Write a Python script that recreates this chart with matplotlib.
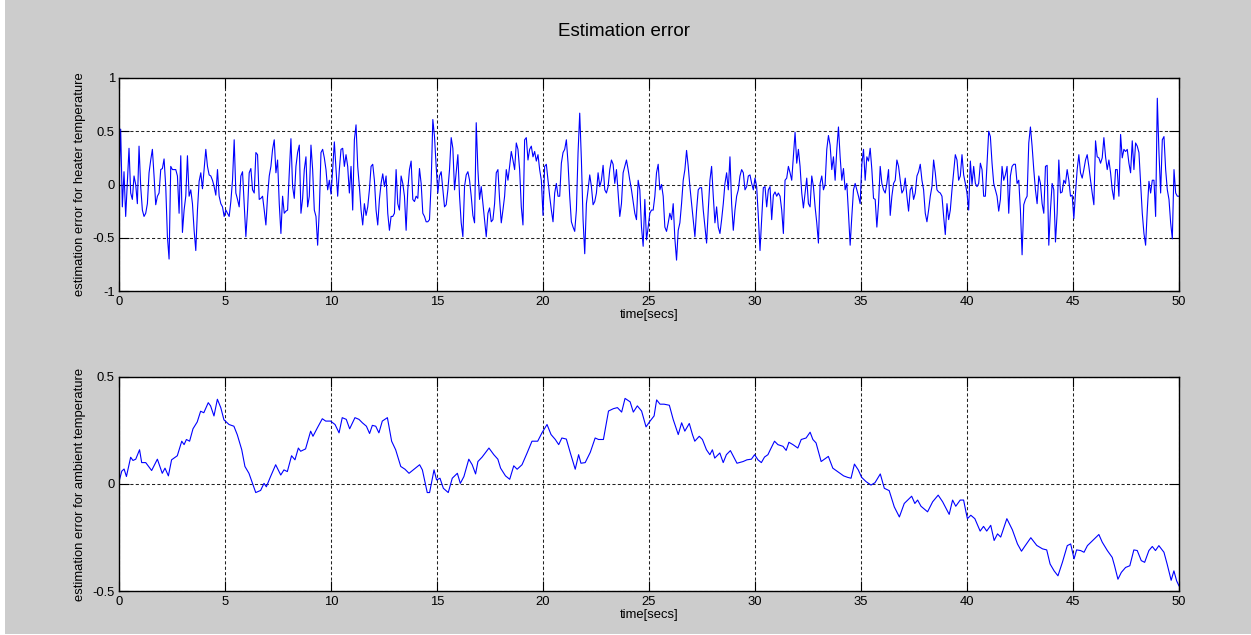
import numpy as np
import matplotlib
matplotlib.use("Agg")
import matplotlib.pyplot as plt
from matplotlib.patches import Rectangle

# Heater-temperature estimation error, sampled uniformly over 0..50 s
heater_error = [
    0.01, 0.52, -0.21, 0.12, -0.30, 0.01, 0.34, -0.08, -0.14, 0.08,
    0.00, -0.18, 0.36, -0.02, -0.24, -0.30, -0.27, -0.18, 0.11, 0.23,
    0.33, 0.08, -0.19, -0.11, -0.08, 0.14, 0.15, 0.24, -0.02, -0.49,
    -0.70, 0.17, 0.14, 0.14, 0.14, 0.08, -0.27, 0.27, -0.45, -0.24,
    -0.11, 0.27, -0.11, -0.05, -0.18, -0.43, -0.62, -0.24, 0.03, 0.11,
    -0.04, 0.14, 0.33, 0.17, 0.09, 0.08, 0.04, -0.02, -0.10, 0.14,
    -0.11, -0.18, -0.21, -0.30, -0.24, -0.27, -0.30, -0.16, 0.04, 0.42,
    -0.08, -0.14, -0.21, 0.08, 0.12, -0.18, -0.49, -0.24, 0.11, 0.15,
    -0.05, -0.08, 0.30, 0.28, -0.14, -0.13, -0.11, -0.24, -0.38, -0.11,
    0.08, 0.17, 0.33, 0.42, 0.11, 0.23, -0.18, -0.46, -0.11, -0.27,
    -0.25, -0.24, 0.11, 0.43, -0.02, -0.13, 0.17, 0.30, 0.37, -0.27,
    -0.13, 0.14, 0.26, -0.21, -0.11, 0.37, 0.14, -0.24, -0.30, -0.57,
    -0.24, 0.30, 0.33, 0.25, 0.14, -0.05, 0.04, -0.09, 0.14, 0.40,
    0.14, -0.11, 0.14, 0.33, 0.34, 0.17, 0.28, 0.17, -0.08, 0.17,
    -0.24, 0.42, 0.56, 0.17, -0.02, -0.24, -0.38, -0.18, -0.29, -0.21,
    -0.05, 0.17, 0.19, 0.04, -0.24, -0.38, -0.14, 0.01, 0.10, -0.02,
    0.08, -0.27, -0.43,
    -0.30, -0.30, -0.27, 0.14, -0.18, -0.24, 0.08, 0.01, -0.11, -0.43,
    -0.05, 0.14, 0.22, -0.14, -0.16, -0.11, -0.13, 0.15, 0.01, -0.27,
    -0.30, -0.35, -0.35, -0.33, 0.01, 0.61, 0.45, 0.17, -0.08, 0.08,
    0.12, -0.05, -0.21, -0.19, -0.05, 0.14, 0.44, 0.34, -0.05, 0.11,
    0.28, -0.11, -0.36, -0.49, -0.02, 0.09, 0.12, 0.04, -0.11, -0.29,
    -0.36, 0.58, 0.14, -0.14, -0.02, -0.18, -0.33, -0.49, -0.27, -0.22,
    -0.35, -0.33, -0.18, 0.11, 0.14, -0.14, -0.36, -0.24, -0.11, 0.14,
    0.04, 0.17, 0.31, 0.23, 0.14, 0.39, 0.33, 0.14, -0.21, -0.38,
    0.42, 0.44, 0.23, 0.33, 0.36, 0.26, 0.31, 0.22, 0.28, 0.14,
    0.04, -0.29, 0.17, 0.19, 0.04, -0.11, -0.24, -0.35, -0.08, 0.01,
    -0.11, -0.11, 0.20, 0.30, 0.33, 0.42, 0.20, -0.11, -0.35, -0.40,
    -0.44, -0.24, 0.30, 0.67, 0.23, -0.33, -0.65, -0.18, -0.05, 0.09,
    -0.02, -0.19, -0.16, -0.08, 0.11, -0.02, 0.04, 0.18, -0.05, -0.08,
    -0.02, 0.14, 0.23, 0.19, 0.01, 0.14, -0.08, -0.30, -0.18, 0.11,
    0.17, 0.23, 0.14, 0.04, -0.05, -0.16, -0.27, -0.33, 0.04, -0.05,
    -0.40, -0.58, -0.14, -0.52, -0.40, -0.27, -0.24, -0.24, -0.11, 0.11,
    0.19,
    -0.05, 0.00, -0.11, -0.40, -0.44, -0.36, -0.27, -0.33, -0.18, -0.51,
    -0.71, -0.43, -0.36, -0.18, 0.04, 0.14, 0.32, 0.17, -0.02, -0.18,
    -0.33, -0.49, -0.24, -0.05, -0.03, -0.03, -0.24, -0.40, -0.55, -0.24,
    0.04, 0.17, -0.11, -0.36, -0.21, -0.40, -0.46, -0.33, -0.18, 0.01,
    0.11, -0.05, 0.26, -0.18, -0.43, -0.24, -0.11, -0.05, 0.08, 0.14,
    0.11, -0.05, -0.02, 0.08, 0.09, 0.01, -0.05, 0.06, -0.02, -0.30,
    -0.62, -0.33, -0.03, -0.02, -0.21, -0.05, -0.02, -0.33, -0.10, -0.07,
    -0.11, -0.08, -0.11, -0.24, -0.46, 0.04, 0.06, 0.17, 0.11, 0.04,
    0.26, 0.49, 0.20, 0.33, 0.17, -0.08, -0.22, -0.08, 0.06, -0.18,
    -0.21, 0.08, -0.02, -0.21, -0.36, -0.55, 0.01, 0.08, -0.05, 0.00,
    0.33, 0.46, 0.37, 0.14, 0.26, 0.04, 0.33, 0.54, 0.26, 0.04,
    0.15, -0.05, 0.01, -0.27, -0.57, -0.30, -0.05, 0.01, -0.05, -0.11,
    -0.18, 0.19, 0.33, 0.04, 0.26, 0.22, 0.34, 0.14, -0.13, -0.14,
    -0.40, -0.18, 0.17, 0.01, -0.05, -0.08, 0.01, 0.14, -0.29, -0.11,
    0.01, 0.04, 0.23, 0.17, 0.04, -0.08, -0.05, 0.06, -0.11, -0.25,
    -0.05, -0.02, -0.14, -0.08, 0.08, 0.12, 0.19, 0.04, -0.05, -0.27,
    -0.35, -0.24, -0.11,
    -0.02, 0.23, 0.11, -0.05, -0.07, -0.08, -0.11, -0.30, -0.47, -0.18,
    -0.33, -0.24, -0.05, 0.11, 0.28, 0.23, 0.04, 0.08, 0.28, 0.09,
    0.01, -0.08, -0.24, 0.22, 0.00, 0.17, 0.01, -0.02, 0.01, 0.20,
    0.14, -0.11, -0.11, 0.20, 0.50, 0.45, 0.20, 0.01, -0.05, -0.11,
    -0.25, -0.14, 0.17, 0.04, 0.09, 0.17, -0.27, 0.08, 0.17, 0.19,
    0.19, 0.01, 0.04, -0.24, -0.66, -0.19, -0.14, -0.11, 0.39, 0.54,
    0.36, 0.14, -0.05, -0.18, 0.08, 0.01, -0.18, -0.27, 0.17, 0.18,
    -0.57, -0.24, 0.01, -0.05, -0.54, -0.27, 0.23, -0.08, -0.07, 0.04,
    0.01, 0.14, 0.04, -0.11, -0.10, -0.32, -0.08, 0.14, 0.28, 0.11,
    0.06, 0.14, 0.23, 0.28, 0.17, 0.04, -0.08, -0.19, 0.41, 0.26,
    0.25, 0.20, 0.25, 0.44, 0.26, 0.14, 0.23, 0.11, -0.05, -0.14,
    0.14, 0.14, -0.11, 0.47, 0.25, 0.33, 0.31, 0.33, 0.20, 0.11,
    0.41, 0.14, 0.39, 0.36, 0.30, 0.01, -0.27, -0.46, -0.57, -0.24,
    0.03, -0.08, 0.04, 0.04, -0.30, 0.81, 0.30, -0.08, 0.42, 0.45,
    0.14, -0.05, -0.14, -0.36, -0.51, 0.14, -0.08, -0.11, -0.11,
]

# Ambient-temperature estimation error
ambient_time = [
    0.0, 0.13, 0.24, 0.35, 0.55, 0.66, 0.79, 0.97, 1.07, 1.26,
    1.54, 1.81, 2.04, 2.17, 2.33, 2.48, 2.75, 2.96, 3.07, 3.18,
    3.33, 3.49, 3.69, 3.85, 4.0, 4.21, 4.32, 4.48, 4.64, 4.8,
    4.95, 5.19, 5.42, 5.58, 5.79, 5.94, 6.13, 6.45, 6.68, 6.84,
    6.95, 7.15, 7.39, 7.63, 7.78, 7.94, 8.14, 8.3, 8.46, 8.57,
    8.8, 9.04, 9.15, 9.36, 9.59, 9.75, 9.98, 10.19, 10.38, 10.53,
    10.72, 10.88, 11.13, 11.32, 11.48, 11.67, 11.82, 11.95, 12.11, 12.26,
    12.42, 12.66, 12.86, 13.05, 13.29, 13.49, 13.68, 13.92, 14.18, 14.31,
    14.54, 14.65, 14.86, 14.98, 15.14, 15.3, 15.53, 15.72, 15.96, 16.1,
    16.27, 16.5, 16.66, 16.82, 16.93, 17.13, 17.45, 17.68, 17.87, 18.0,
    18.23, 18.43, 18.62, 18.78, 19.01, 19.25, 19.48, 19.75, 19.95, 20.19,
    20.38, 20.58, 20.74, 20.89, 21.1, 21.29, 21.52, 21.68, 21.79, 21.99,
    22.23, 22.46, 22.62, 22.85, 23.09, 23.32, 23.51, 23.71, 23.87, 24.11,
    24.26, 24.45, 24.65, 24.86, 25.05, 25.24, 25.36, 25.52, 25.71, 25.96,
    26.14, 26.38, 26.54, 26.69, 26.9, 27.05, 27.16, 27.37, 27.52, 27.71,
    27.87, 27.99, 28.1, 28.34, 28.5, 28.65, 28.84, 29.0, 29.15, 29.44,
    29.62, 29.83, 29.98, 30.14, 30.3, 30.45, 30.61, 30.72, 30.92, 31.08,
    31.32, 31.47, 31.6, 31.79, 32.02, 32.18, 32.41, 32.6, 32.73, 32.88,
    33.12, 33.28, 33.46, 33.67, 33.9, 34.18, 34.37, 34.53, 34.69, 34.87,
    35.03, 35.24, 35.47, 35.66, 35.91, 36.1, 36.33, 36.57, 36.81, 37.04,
    37.28, 37.39, 37.54, 37.67, 37.83, 38.14, 38.38, 38.64, 38.85, 39.16,
    39.32, 39.47, 39.68, 39.84, 39.95, 40.02, 40.18, 40.37, 40.62, 40.78,
    40.93, 41.12, 41.28, 41.44, 41.59, 41.72, 41.88, 42.14, 42.38, 42.57,
    42.72, 43.01, 43.29, 43.56, 43.76, 43.92, 44.11, 44.29, 44.5, 44.73,
    44.89, 45.05, 45.17, 45.36, 45.52, 45.68, 45.96, 46.22, 46.38, 46.62,
    46.85, 46.96, 47.12, 47.28, 47.48, 47.68, 47.87, 48.03, 48.22, 48.38,
    48.58, 48.74, 48.89, 49.05, 49.29, 49.44, 49.63, 49.76, 49.89, 50.0,
]
ambient_error = [
    0.01, 0.06, 0.07, 0.035, 0.125, 0.11, 0.116, 0.16, 0.10, 0.10,
    0.063, 0.116, 0.05, 0.074, 0.038, 0.113, 0.132, 0.20, 0.184, 0.208,
    0.20, 0.258, 0.29, 0.34, 0.333, 0.38, 0.365, 0.318, 0.396, 0.357,
    0.30, 0.278, 0.27, 0.23, 0.16, 0.082, 0.05, -0.04, -0.03, 0.003,
    -0.013, 0.035, 0.09, 0.042, 0.066, 0.058, 0.132, 0.113, 0.168, 0.153,
    0.164, 0.247, 0.223, 0.263, 0.305, 0.294, 0.294, 0.278, 0.239, 0.31,
    0.302, 0.258, 0.31, 0.302, 0.286, 0.27, 0.236, 0.274, 0.27, 0.239,
    0.294, 0.31, 0.20, 0.16, 0.082, 0.069, 0.05, 0.069, 0.09, 0.066,
    -0.04, -0.04, 0.066, 0.019, 0.027, -0.02, -0.04, 0.027, 0.05, 0.003,
    0.035, 0.116, 0.09, 0.047, 0.105, 0.126, 0.168, 0.137, 0.116, 0.074,
    0.038, 0.022, 0.085, 0.069, 0.09, 0.145, 0.20, 0.20, 0.239, 0.278,
    0.231, 0.208, 0.184, 0.215, 0.21, 0.145, 0.069, 0.137, 0.097, 0.10,
    0.148, 0.215, 0.208, 0.208, 0.341, 0.352, 0.357, 0.336, 0.40, 0.384,
    0.336, 0.365, 0.341, 0.267, 0.294, 0.318, 0.393, 0.373, 0.373, 0.368,
    0.302, 0.231, 0.286, 0.247, 0.283, 0.231, 0.20, 0.223, 0.208, 0.16,
    0.137, 0.16, 0.121, 0.145, 0.10, 0.137, 0.156, 0.126, 0.097, 0.105,
    0.113, 0.116, 0.137, 0.113, 0.10, 0.126, 0.137, 0.16, 0.20, 0.184,
    0.176, 0.157, 0.195, 0.184, 0.168, 0.208, 0.215, 0.242, 0.208, 0.192,
    0.105, 0.116, 0.129, 0.074, 0.058, 0.038, 0.031, 0.027, 0.093, 0.066,
    0.031, 0.011, -0.005, 0.006, 0.047, -0.02, -0.031, -0.107, -0.154, -0.091,
    -0.068, -0.057, -0.091, -0.075, -0.104, -0.13, -0.083, -0.052, -0.083, -0.142,
    -0.075, -0.104, -0.075, -0.075, -0.13, -0.162, -0.146, -0.162, -0.22, -0.198,
    -0.22, -0.193, -0.264, -0.233, -0.248, -0.209, -0.162, -0.214, -0.28, -0.314,
    -0.292, -0.251, -0.287, -0.303, -0.308, -0.374, -0.406, -0.429, -0.366, -0.288,
    -0.28, -0.35, -0.308, -0.311, -0.319, -0.288, -0.261, -0.236, -0.272, -0.311,
    -0.343, -0.382, -0.445, -0.413, -0.39, -0.382, -0.308, -0.311, -0.358, -0.366,
    -0.311, -0.292, -0.311, -0.288, -0.319, -0.374, -0.45, -0.406, -0.453, -0.476,
]

x_ticks = [0, 5, 10, 15, 20, 25, 30, 35, 40, 45, 50]
heater_ticks = [-1, -0.5, 0, 0.5, 1]
ambient_ticks = [-0.5, 0, 0.5]

plt.rcParams["font.family"] = ["Liberation Sans", "DejaVu Sans"]

W, H = 1251, 635
fig = plt.figure(figsize=(W / 100, H / 100), dpi=100, facecolor="#cccccc")

# thin white border strips along the left and bottom edges
fig.patches.append(Rectangle((0, 0), 5 / W, 1, transform=fig.transFigure,
                             facecolor="white", edgecolor="none", zorder=0))
fig.patches.append(Rectangle((0, 0), 1, 1 / H, transform=fig.transFigure,
                             facecolor="white", edgecolor="none", zorder=0))

ax_left, ax_right = 119 / W, 1179 / W
ax1 = fig.add_axes([ax_left, 1 - 291 / H, ax_right - ax_left, 213 / H])
ax2 = fig.add_axes([ax_left, 1 - 591 / H, ax_right - ax_left, 214 / H])

heater_time = np.linspace(0, 50, len(heater_error))


def style_axes(ax, yticks, ylim, ylabel):
    ax.set_facecolor("white")
    ax.set_xlim(0, 50)
    ax.set_ylim(*ylim)
    ax.set_xticks(x_ticks)
    ax.set_xticklabels([f"{v:g}" for v in x_ticks])
    ax.set_yticks(yticks)
    ax.set_yticklabels([f"{v:g}" for v in yticks])
    ax.tick_params(direction="in", length=7, width=0.8, top=True, right=True,
                   labelsize=9.4, pad=3.5, colors="black")
    ax.tick_params(axis="y", pad=3)
    ax.grid(True, color="#222222", linestyle=(0, (3, 2.2)), linewidth=0.75)
    ax.set_axisbelow(True)
    for s in ax.spines.values():
        s.set_linewidth(1.0)
        s.set_color("black")
    ax.set_xlabel("time[secs]", fontsize=9.4, labelpad=1)
    ax.set_ylabel(ylabel, fontsize=9.4, labelpad=5)


ax1.plot(heater_time, heater_error, color="#0000ff", linewidth=0.8)
style_axes(ax1, heater_ticks, (-1, 1), "estimation error for heater temperature")

ax2.plot(ambient_time, ambient_error, color="#0000ff", linewidth=0.8)
style_axes(ax2, ambient_ticks, (-0.5, 0.5), "estimation error for ambient temperature")

fig.text(624 / W, 1 - 32 / H, "Estimation error", ha="center", va="center",
         fontsize=13.5, color="black")

fig.savefig("out.png", dpi=100, facecolor=fig.get_facecolor())
